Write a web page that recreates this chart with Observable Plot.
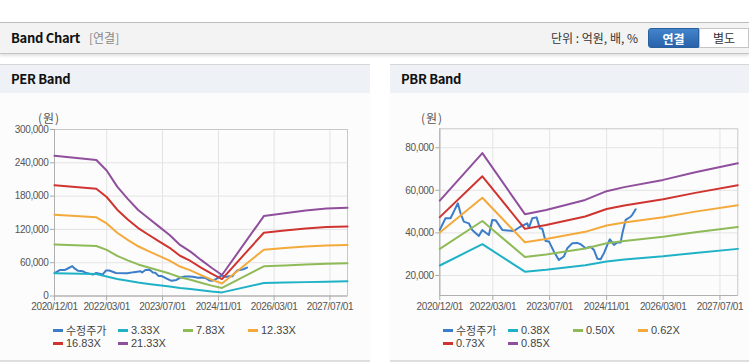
<!DOCTYPE html>
<html>
<head>
<meta charset="utf-8">
<script src="https://cdn.jsdelivr.net/npm/d3@7"></script>
<script src="https://cdn.jsdelivr.net/npm/@observablehq/plot@0.6"></script>
<style>
  html, body { margin:0; padding:0; background:#fff; }
  body { width:749px; height:364px; position:relative; overflow:hidden;
         font-family:"Noto Sans CJK KR","Liberation Sans",Arial,sans-serif; color:#333; }
  .abs { position:absolute; }
  .topbar { left:0; top:22px; width:749px; height:30px; background:#f3f3f3;
            border-top:1px solid #bdbdbd; border-bottom:1px solid #c4c4c4;
            box-shadow:0 2px 3px rgba(0,0,0,0.12); }
  .title { left:11px; top:0; line-height:30px; font-size:13px; font-weight:bold; color:#111; letter-spacing:-0.3px; }
  .sub { left:89px; top:0; line-height:30px; font-size:12px; color:#888; }
  .unit { left:551px; top:0; line-height:30px; font-size:12px; color:#333; white-space:pre; }
  .btn1 { left:648px; top:5px; width:51px; height:20px; line-height:20px; text-align:center;
          background:linear-gradient(#4384cc,#2862aa); color:#fff; font-size:12px; font-weight:bold;
          border-radius:3px 0 0 3px; border:1px solid #2a5f9e; box-sizing:border-box; }
  .btn2 { left:699px; top:5px; width:50px; height:20px; line-height:18px; text-align:center;
          background:#fff; color:#333; font-size:12px; border:1px solid #c5c5c5; box-sizing:border-box; }
  .panel { top:64px; height:298px; background:#fcfcfc; border-top:1px solid #d6d6d6; border-bottom:2px solid #dedede; box-sizing:border-box; }
  .phead { left:0; top:0; right:0; height:28px; background:#eef1f6; }
  .phead span { position:absolute; left:11px; top:0; line-height:28px; font-size:13px; font-weight:bold; color:#111; letter-spacing:-0.3px; }
  .unitlab { font-size:12px; color:#555; letter-spacing:1px; white-space:pre; }
  .sw { position:absolute; width:10px; height:3px; }
  .lt { position:absolute; font-size:11px; color:#444; line-height:12px; font-family:"Liberation Sans","Noto Sans CJK KR",Arial,sans-serif; }
  svg text { letter-spacing:-0.35px; }
</style>
</head>
<body>
<div class="abs topbar">
  <div class="abs title">Band Chart</div>
  <div class="abs sub">[연결]</div>
  <div class="abs unit">단위 : 억원, 배, %</div>
  <div class="abs btn1">연결</div>
  <div class="abs btn2">별도</div>
</div>
<div class="abs panel" style="left:0;width:370px;"><div class="abs phead"><span>PER Band</span></div></div>
<div class="abs panel" style="left:390px;width:359px;"><div class="abs phead"><span>PBR Band</span></div></div>
<div class="abs unitlab" style="left:38px;top:109px;">(원)</div>
<div class="abs unitlab" style="left:421px;top:109px;">(원)</div>
<div id="per" class="abs" style="left:0;top:100px;"></div>
<div id="pbr" class="abs" style="left:390px;top:100px;"></div>
<div id="legends"></div>
<script>
// ---------- data ----------
const xTickDates = ["2020-12-01","2022-03-01","2023-07-01","2024-11-01","2026-03-01","2027-07-01"];
const perTicks = [0, 60000, 120000, 180000, 240000, 300000];
const pbrTicks = [20000, 40000, 60000, 80000];

// 수정주가 (adjusted price)
const priceDates = ["2020-12-01","2021-01-19","2021-03-03","2021-03-31","2021-05-05","2021-05-28","2021-06-25","2021-08-07","2021-09-05","2021-11-01","2021-11-30","2022-01-26","2022-02-24","2022-03-24","2022-05-21","2022-08-28","2022-10-25","2022-12-21","2023-01-04","2023-02-02","2023-03-11","2023-04-08","2023-04-29","2023-05-27","2023-06-25","2023-08-07","2023-09-18","2023-10-31","2023-11-30","2024-01-12","2024-02-23","2024-03-23","2024-05-05","2024-06-17","2024-07-15","2024-08-13","2024-09-10","2024-10-09","2024-11-07","2024-11-29","2025-01-03","2025-02-01","2025-03-01","2025-03-16","2025-04-13","2025-05-26","2025-06-10","2025-07-08"];
const price = [41400,46900,46900,50000,53900,49200,45300,44500,41400,38600,41400,39000,46100,46000,41400,40900,43000,44500,42400,46900,47300,42200,42000,36200,36000,31200,27300,28900,32800,35200,35300,34700,32800,33500,32000,27900,27600,30500,34400,37000,34400,35500,35500,39800,46100,47600,48600,51100];

// PER bands
const perDates = ["2020-12-01","2021-12-01","2022-03-01","2022-06-01","2022-09-01","2022-12-01","2023-03-01","2023-06-01","2023-09-01","2023-12-01","2024-03-01","2024-06-01","2024-09-01","2024-12-01","2025-12-01","2026-06-01","2026-12-01","2027-06-01","2027-12-01"];
const per333  = [41000,39500,35300,30800,27300,24200,21800,19500,17200,14400,12500,10200,8000,6500,23500,24300,25000,25600,26500];
const per783  = [93000,90000,83000,72300,64200,56900,51400,45900,40400,33700,29400,23900,18700,14500,53500,55000,56700,58000,59000];
const per1233 = [146500,141700,130700,113900,101100,89600,80900,72300,63600,53100,46200,37600,29500,22500,83500,86500,89000,91000,92000];
const per1683 = [199500,193400,178400,155500,138000,122400,110400,98600,86800,72500,63100,51300,40200,30500,114000,118000,121500,124200,125400];
const per2133 = [252500,245000,226000,197000,175000,155000,140000,125000,110000,92000,80000,65000,51000,37800,144000,149000,154000,157500,159000];

// PBR bands
const pbrDates = ["2020-12-01","2021-12-01","2022-12-01","2023-06-01","2024-05-01","2024-11-01","2025-04-01","2026-03-01","2026-12-01","2027-12-01"];
const pbr038 = [24700,34700,21800,22700,24800,26600,27500,29000,30600,32500];
const pbr050 = [32500,45600,28700,29900,32700,35100,36200,38200,40300,42800];
const pbr062 = [40200,56500,35600,37100,40500,43500,44900,47400,50000,53000];
const pbr073 = [47400,66600,41900,43700,47700,51200,52900,55800,58800,62400];
const pbr085 = [55200,77500,48800,50800,55500,59600,61500,64900,68500,72700];

const perNames = ["수정주가","3.33X","7.83X","12.33X","16.83X","21.33X"];
const pbrNames = ["수정주가","0.38X","0.50X","0.62X","0.73X","0.85X"];
const colors = ["#3b7dc9","#1fb2c6","#8fba58","#f4a93b","#cf3430","#904f9d"];

// ---------- build ----------
const parse = d3.utcParse("%Y-%m-%d");
const xTicks = xTickDates.map(parse);
const toRows = (dates, vals) => dates.map((d, i) => ({date: parse(d), value: vals[i]}));

function chart({width, height, ml, mr, mt, mb, ydomain, yticks, series}) {
  return Plot.plot({
    width, height, marginLeft: ml, marginRight: mr, marginTop: mt, marginBottom: mb,
    style: {fontFamily: "'Liberation Sans', Arial, sans-serif", fontSize: "10px", color: "#555", background: "transparent", overflow: "visible"},
    x: {type: "utc", domain: [parse("2020-12-01"), parse("2027-12-01")]},
    y: {domain: ydomain},
    marks: [
      Plot.ruleY(yticks, {stroke: "#e4e4e4"}),
      Plot.ruleX(xTicks, {stroke: "#e4e4e4"}),
      Plot.frame({stroke: "#c8c8c8"}),
      Plot.axisY(yticks, {tickSize: 4, tickPadding: 2, tickFormat: d3.format(","), stroke: "#aaa", label: null}),
      Plot.axisX(xTicks, {tickSize: 5, tickPadding: 2, tickFormat: d3.utcFormat("%Y/%m/%d"), stroke: "#aaa", label: null}),
      Plot.ruleX([parse("2020-12-01")], {stroke: "#b0b0b0"}),
      Plot.ruleY([ydomain[0]], {stroke: "#b0b0b0"}),
      ...series.map((s, i) => Plot.line(s, {x: "date", y: "value", stroke: colors[i], strokeWidth: 2, curve: "linear"}))
    ]
  });
}

const priceRows = toRows(priceDates, price);

document.getElementById("per").appendChild(chart({
  width: 370, height: 220, ml: 54, mr: 23, mt: 29, mb: 24.5,
  ydomain: [0, 300000], yticks: perTicks,
  series: [priceRows, toRows(perDates, per333), toRows(perDates, per783), toRows(perDates, per1233), toRows(perDates, per1683), toRows(perDates, per2133)]
}));

document.getElementById("pbr").appendChild(chart({
  width: 359, height: 220, ml: 49.3, mr: 11.7, mt: 28.3, mb: 25,
  ydomain: [10600, 88900], yticks: pbrTicks,
  series: [priceRows, toRows(pbrDates, pbr038), toRows(pbrDates, pbr050), toRows(pbrDates, pbr062), toRows(pbrDates, pbr073), toRows(pbrDates, pbr085)]
}));

// legends
function legend(names, x0) {
  const cols = [0, 65, 130, 195];
  const box = document.getElementById("legends");
  names.forEach((n, i) => {
    const col = i < 4 ? i : i - 4;
    const y = i < 4 ? 330 : 343;
    const sx = x0 + cols[col];
    const sw = document.createElement("div");
    sw.className = "sw"; sw.style.left = sx + "px"; sw.style.top = (y - 1) + "px"; sw.style.background = colors[i];
    const t = document.createElement("div");
    t.className = "lt"; t.textContent = n; t.style.left = (sx + 13) + "px"; t.style.top = (y - 6) + "px";
    if (i === 0) t.style.fontFamily = "'Noto Sans CJK KR', sans-serif";
    box.appendChild(sw); box.appendChild(t);
  });
}
legend(perNames, 53);
legend(pbrNames, 443);
</script>
</body>
</html>
